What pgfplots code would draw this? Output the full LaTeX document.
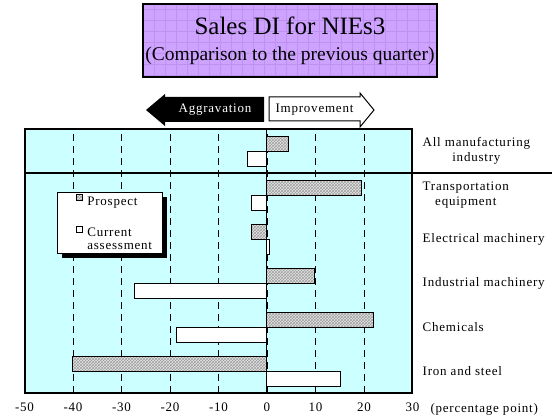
\documentclass[border=0pt]{standalone}
\usepackage{fontspec}
\setmainfont{Liberation Serif}
\newfontfamily\lbl[LetterSpace=6]{Liberation Serif}
\usepackage{pgfplots}
\pgfplotsset{compat=1.18}
\usetikzlibrary{patterns}
\definecolor{plotbg}{RGB}{204,255,255}
\definecolor{titlebg}{RGB}{206,162,255}
\definecolor{titlegrid}{RGB}{190,145,240}

\begin{document}
\begin{tikzpicture}[x=1pt,y=1pt]
\useasboundingbox (0,0) rectangle (552,416);

% title box
\begin{scope}
  \clip (143,339) rectangle (437,412);
  \fill[titlebg] (143,339) rectangle (437,412);
  \draw[titlegrid, line width=0.4pt, step=11] (140,330) grid (440,415);
\end{scope}
\draw[line width=1.5pt] (143,339) rectangle (437,412);
\node[anchor=base, font=\fontsize{25}{28}\selectfont] at (290,381) {Sales DI for NIEs3};
\node[anchor=base, font=\fontsize{19.5}{24}\selectfont] at (290,355) {(Comparison to the previous quarter)};

% direction arrows
\fill[black] (146,306) -- (165,322) -- (165,319) -- (264,319) -- (264,294)
  -- (165,294) -- (165,290) -- cycle;
\node[white, font=\lbl\fontsize{13}{15}\selectfont] at (215,306) {Aggravation};
\draw[line width=1pt, fill=white] (269,319) -- (360,319) -- (360,323) -- (374,306)
  -- (360,289) -- (360,295) -- (269,295) -- cycle;
\node[font=\lbl\fontsize{13}{15}\selectfont] at (314.5,306) {Improvement};

\begin{axis}[
    at={(24.5pt,23pt)}, anchor=south west,
    scale only axis, width=388pt, height=264pt,
    xbar,
    xmin=-50, xmax=30, ymin=-0.5, ymax=5.5,
    axis background/.style={fill=plotbg},
    axis line style={line width=2pt},
    xtick={-50,-40,...,30},
    xticklabels={-50,-40,-30,-20,-10,0,10,20,30},
    ytick={0,...,5},
    yticklabels={Iron and steel, Chemicals, Industrial machinery,
      Electrical machinery, Transportation\\equipment, All manufacturing\\industry},
    yticklabel pos=right,
    yticklabel style={anchor=west, align=center, inner sep=0pt, xshift=10pt},
    xticklabel style={yshift=-6.5pt},
    major tick length=0pt,
    tick label style={font=\lbl\fontsize{13}{15}\selectfont},
    xmajorgrids=true,
    major grid style={black, line width=0.8pt, dash pattern=on 7pt off 5pt},
    bar width=15pt,
    legend cell align=left,
    legend style={at={(0.1315,0.7538)}, anchor=north west,
      draw=none, fill=none, inner sep=0pt,
      font=\lbl\fontsize{13}{13}\selectfont,
      row sep=17pt,
      /tikz/every odd column/.append style={column sep=2.5pt}},
    legend image code/.code={%
      \draw[#1, line width=1.1pt] (0pt,0.8pt) rectangle (6pt,6.8pt);},
]
% legend frame with its shadow
\fill[black] (rel axis cs:0.0961,0.5122) rectangle (rel axis cs:0.3668,0.7417);
\filldraw[fill=white, draw=black, line width=1pt]
  (rel axis cs:0.0845,0.5292) rectangle (rel axis cs:0.3552,0.7587);
% Prospect
\addplot[draw=black, line width=1pt, fill=gray!20,
  postaction={pattern=crosshatch, pattern color=gray!75}, bar shift=7.5pt]
  coordinates {(4.5,5) (19.4,4) (-3.2,3) (9.7,2) (21.9,1) (-40,0)};
% Current assessment
\addplot[draw=black, line width=1pt, fill=white, bar shift=-7.5pt]
  coordinates {(-4.0,5) (-3.2,4) (0.5,3) (-27.4,2) (-18.6,1) (15.2,0)};
\legend{Prospect, \begin{tabular}[t]{@{}l@{}}Current\\assessment\end{tabular}}
\draw[line width=1pt] (axis cs:0,-0.5) -- (axis cs:0,5.5);
\end{axis}

% separator below "All manufacturing industry"
\draw[line width=2pt] (24.5,243) -- (552,243);
\node[anchor=base west, font=\lbl\fontsize{13}{15}\selectfont] at (427,3.6) {(percentage point)};
\end{tikzpicture}
\end{document}
